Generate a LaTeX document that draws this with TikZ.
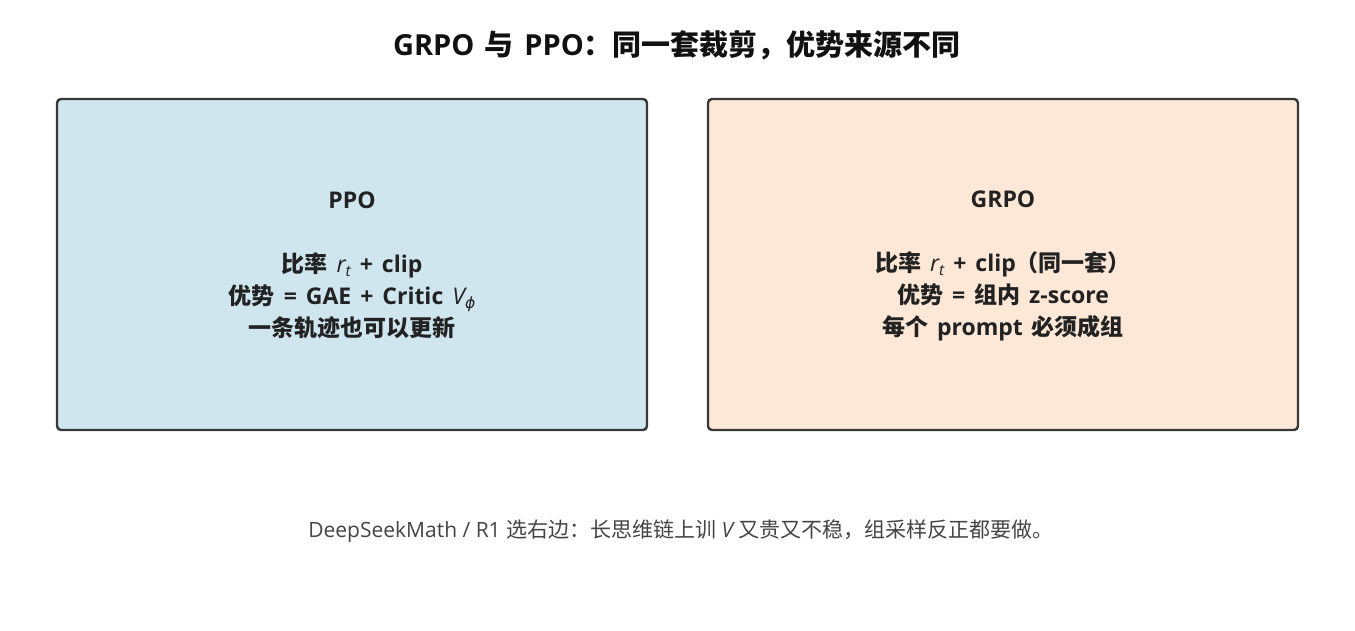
\documentclass[tikz,border=0pt]{standalone}
\usepackage{fontspec}
\setmainfont{Noto Sans CJK SC}
\newfontfamily\lat{Open Sans}
\newfontfamily\djit{DejaVu Sans}
\definecolor{txt}{HTML}{222222}
\definecolor{ttl}{HTML}{111111}
\definecolor{cap}{HTML}{444444}
\definecolor{edge}{HTML}{383838}
\definecolor{bluefill}{HTML}{CFE6EF}
\definecolor{peachfill}{HTML}{FDE7D7}
\newcommand{\Lt}[1]{{\lat #1}}
\newcommand{\ivar}[1]{{\lat\itshape\mdseries #1}}
\newcommand{\isub}[1]{\raisebox{-0.35ex}{\fontsize{15.5}{15.5}\selectfont\lat\itshape\mdseries #1}}
\newcommand{\boxfont}{\fontsize{23}{32}\selectfont\bfseries\spaceskip 9pt plus 1pt minus 1pt\relax}
\newcommand{\titlefont}{\fontsize{29}{32}\selectfont\bfseries\spaceskip 10.5pt plus 1pt minus 1pt\relax}
\begin{document}
\begin{tikzpicture}[x=1pt,y=-1pt,
  panel/.style={draw=edge, line width=2.4pt, rounded corners=4pt},
  paneltext/.style={text=txt, align=center, font=\boxfont, inner sep=0pt},
  ]
\useasboundingbox (0,0) rectangle (1355,630);
\node[text=ttl, font=\titlefont, inner sep=0pt] (title) at (677,45) {\Lt{GRPO }与\Lt{ PPO}：同一套裁剪，优势来源不同};
\draw[panel, fill=bluefill] (57,99) rectangle (647,430);
\draw[panel, fill=peachfill] (708,99) rectangle (1298,430);
\node[paneltext] (ppo) at (352,265) {\Lt{PPO}\\[32pt]比率\Lt{ }\ivar{r}\isub{t}\Lt{ + clip}\\优势\Lt{ = GAE + Critic }\ivar{V}\isub{\djit\itshape ϕ}\\一条轨迹也可以更新};
\node[paneltext] (grpo) at (1003,266) {\Lt{GRPO}\\[32pt]比率\Lt{ }\ivar{r}\isub{t}\Lt{ + clip}（同一套）\\优势\Lt{ = }组内\Lt{ z-score}\\每个\Lt{ prompt }必须成组};
\node[text=cap, font=\fontsize{21}{24}\selectfont, inner sep=0pt] (note) at (681,531) {\Lt{DeepSeekMath / R1 }选右边：长思维链上训\Lt{ }\ivar{V}\Lt{ }又贵又不稳，组采样反正都要做。};
\end{tikzpicture}
\end{document}
